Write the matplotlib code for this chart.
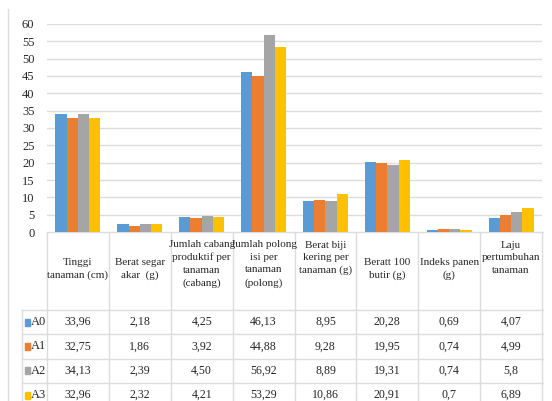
import matplotlib
matplotlib.use('Agg')
import matplotlib.pyplot as plt
import numpy as np

plt.rcParams['font.family'] = ['Liberation Serif', 'DejaVu Serif']

# ── Data ──────────────────────────────────────────────────────────────────────
categories = [
    'Tinggi\ntanaman (cm)',
    'Berat segar\nakar  (g)',
    'Jumlah cabang\nproduktif per\ntanaman\n(cabang)',
    'Jumlah polong\nisi per\ntanaman\n(polong)',
    'Berat biji\nkering per\ntanaman (g)',
    'Beratt 100\nbutir (g)',
    'Indeks panen\n(g)',
    'Laju\npertumbuhan\ntanaman',
]
series_names = ['A0', 'A1', 'A2', 'A3']
A0 = [33.96, 2.18, 4.25, 46.13, 8.95, 20.28, 0.69, 4.07]
A1 = [32.75, 1.86, 3.92, 44.88, 9.28, 19.95, 0.74, 4.99]
A2 = [34.13, 2.39, 4.50, 56.92, 8.89, 19.31, 0.74, 5.80]
A3 = [32.96, 2.32, 4.21, 53.29, 10.86, 20.91, 0.70, 6.89]
# cell text as printed in the data table
A0_txt = ['33,96', '2,18', '4,25', '46,13', '8,95', '20,28', '0,69', '4,07']
A1_txt = ['32,75', '1,86', '3,92', '44,88', '9,28', '19,95', '0,74', '4,99']
A2_txt = ['34,13', '2,39', '4,50', '56,92', '8,89', '19,31', '0,74', '5,8']
A3_txt = ['32,96', '2,32', '4,21', '53,29', '10,86', '20,91', '0,7', '6,89']
yticks = np.arange(0, 61, 5)

series = [A0, A1, A2, A3]
texts = [A0_txt, A1_txt, A2_txt, A3_txt]
colors = ['#5B9BD5', '#ED7D31', '#A5A5A5', '#FFC000']
TXT = '#262626'
GRID = '#DCDCDC'

W, H = 552, 401
fig = plt.figure(figsize=(W / 100, H / 100), dpi=100)

# plot area in pixel coords (left, top, right, bottom)
PL, PT, PR, PB = 47, 24, 542, 232
ax = fig.add_axes([PL / W, 1 - PB / H, (PR - PL) / W, (PB - PT) / H])

n = len(categories)
x = np.arange(n)
bw = 0.182
for k, (vals, col) in enumerate(zip(series, colors)):
    ax.bar(x + (k - 1.5) * bw, vals, width=bw, color=col, zorder=3)

ax.set_xlim(-0.5, n - 0.5)
ax.set_ylim(0, 60)
ax.set_yticks(yticks)
ax.set_xticks([])
ax.tick_params(axis='y', length=0, pad=9, labelsize=9, labelcolor=TXT)
ax.grid(axis='y', color=GRID, lw=1.0, zorder=0)
for s in ax.spines.values():
    s.set_visible(False)

# ── Data table drawn underneath in pixel coords ──────────────────────────────
ov = fig.add_axes([0, 0, 1, 1], zorder=-1)
ov.set_xlim(0, W)
ov.set_ylim(H, 0)
ov.axis('off')

colw = (PR - PL) / n
edges = PL + colw * np.arange(n + 1)
head_bot = 310
row_h = 24.3
row_tops = head_bot + row_h * np.arange(len(series_names) + 1)
LEG_L = 22

# outer chart border
ov.plot([8, 8], [9, H], color=GRID, lw=1.0)

ov.plot([PL, PR + 1], [PB, PB], color=GRID, lw=1.0)
for e in edges:
    ov.plot([e, e], [PB, H], color=GRID, lw=1.0)
ov.plot([LEG_L, LEG_L], [head_bot, H], color=GRID, lw=1.0)
for y in row_tops[:-1]:
    ov.plot([LEG_L, PR + 1], [y, y], color=GRID, lw=1.0)

head_center = {2: 269, 3: 258, 4: 264}
for i, lab in enumerate(categories):
    nl = lab.count('\n') + 1
    ov.text((edges[i] + edges[i + 1]) / 2, head_center[nl], lab, ha='center',
            va='center', fontsize=8, color=TXT, linespacing=1.5)

for r, (name, col, cells) in enumerate(zip(series_names, colors, texts)):
    yc = row_tops[r] + row_h / 2
    ov.add_patch(plt.Rectangle((25, yc - 3.5), 5, 7, color=col))
    ov.text(31, yc, name, ha='left', va='center', fontsize=9, color=TXT)
    for i, t in enumerate(cells):
        ov.text((edges[i] + edges[i + 1]) / 2, yc, t, ha='center', va='center',
                fontsize=8.6, color=TXT)

fig.savefig('out.png', dpi=100, facecolor='white')
